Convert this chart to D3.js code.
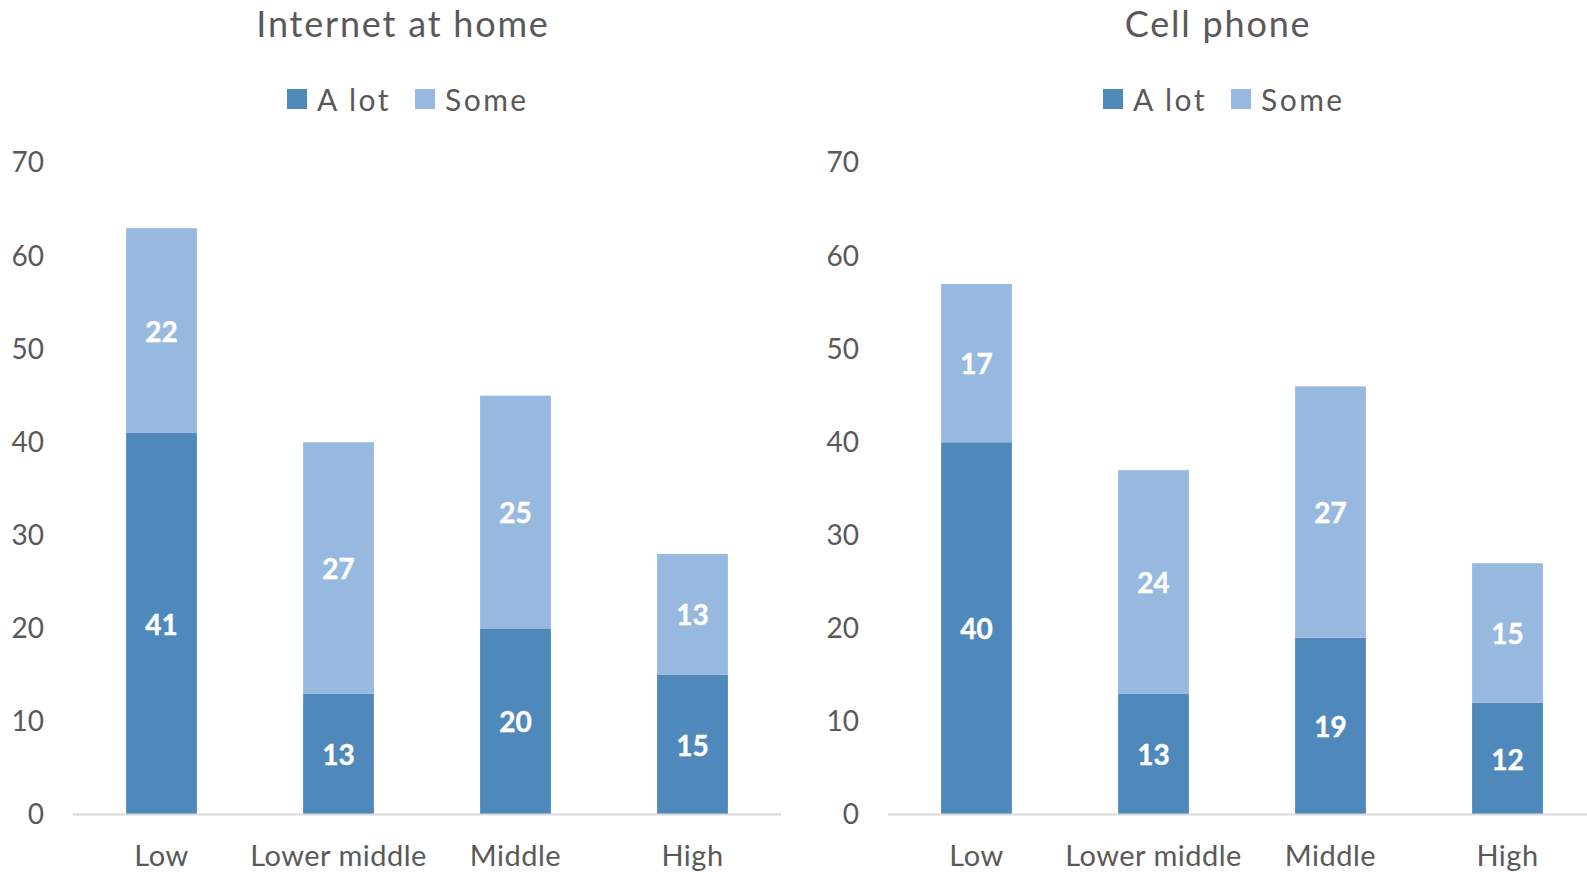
<!DOCTYPE html>
<html>
<head>
<meta charset="utf-8">
<script src="https://cdn.jsdelivr.net/npm/d3@7/dist/d3.min.js"></script>
<style>
  html, body { margin: 0; padding: 0; background: #fff; }
  svg text { font-family: Lato, "Open Sans", sans-serif; }
</style>
</head>
<body>
<svg id="chart" width="1587" height="872"></svg>
<script>
// Income groups shown on the x axis
const categories = ["Low", "Lower middle", "Middle", "High"];
const seriesNames = ["A lot", "Some"];

// Internet at home
const internetALot = [41, 13, 20, 15];
const internetSome = [22, 27, 25, 13];

// Cell phone
const phoneALot = [40, 13, 19, 12];
const phoneSome = [17, 24, 27, 15];

const yTicks = [0, 10, 20, 30, 40, 50, 60, 70];

const colors = { "A lot": "#4f89bc", "Some": "#98b9df" };
const textColor = "#595959";

const svg = d3.select("#chart");

const panels = [
  { title: "Internet at home", aLot: internetALot, some: internetSome,
    x0: 73, x1: 781, tickX: 44, titleX: 402, legendX: 287 },
  { title: "Cell phone", aLot: phoneALot, some: phoneSome,
    x0: 888, x1: 1596, tickX: 859, titleX: 1217, legendX: 1103 }
];

const yBase = 814.5, yTop = 163;

panels.forEach(p => {
  const g = svg.append("g");

  const x = d3.scaleBand().domain(categories).range([p.x0, p.x1]).paddingInner(0.6).paddingOuter(0.3);
  const y = d3.scaleLinear().domain([0, 70]).range([yBase, yTop]);

  // title
  g.append("text")
    .attr("x", p.titleX + 1).attr("y", 23)
    .attr("text-anchor", "middle").attr("dominant-baseline", "central")
    .attr("font-size", 36).attr("letter-spacing", 1.8).attr("fill", textColor)
    .text(p.title);

  // legend
  const leg = g.append("g").attr("transform", `translate(${p.legendX},99)`);
  const legOffsets = [0, 128];
  seriesNames.forEach((s, i) => {
    leg.append("rect").attr("x", legOffsets[i]).attr("y", -10)
      .attr("width", 20).attr("height", 20).attr("fill", colors[s]);
    leg.append("text").attr("x", legOffsets[i] + 30).attr("y", 0)
      .attr("dominant-baseline", "central").attr("font-size", 30)
      .attr("letter-spacing", 2.5)
      .attr("fill", textColor).text(s);
  });

  // y axis tick labels
  const yAxis = d3.axisLeft(y).tickValues(yTicks).tickSize(0).tickPadding(0);
  const ya = g.append("g").attr("transform", `translate(${p.tickX},0)`).call(yAxis);
  ya.select(".domain").remove();
  ya.selectAll("text").attr("font-size", 28).attr("fill", textColor)
    .attr("font-family", "Lato, 'Open Sans', sans-serif");

  // stacked data
  const rows = categories.map((c, i) => ({ cat: c, "A lot": p.aLot[i], "Some": p.some[i] }));
  const stack = d3.stack().keys(seriesNames)(rows);

  stack.forEach(layer => {
    const lg = g.append("g");
    lg.selectAll("rect").data(layer).join("rect")
      .attr("x", d => x(d.data.cat))
      .attr("width", x.bandwidth())
      .attr("y", d => y(d[1]))
      .attr("height", d => y(d[0]) - y(d[1]))
      .attr("fill", colors[layer.key]);
    lg.selectAll("text").data(layer).join("text")
      .attr("x", d => x(d.data.cat) + x.bandwidth() / 2)
      .attr("y", d => y((d[0] + d[1]) / 2))
      .attr("text-anchor", "middle").attr("dominant-baseline", "central")
      .attr("font-size", 28).attr("font-weight", "bold").attr("fill", "#ffffff")
      .attr("stroke", "#ffffff").attr("stroke-width", 0.4)
      .text(d => d.data[layer.key]);
  });

  // baseline
  g.append("line").attr("x1", p.x0).attr("x2", p.x1)
    .attr("y1", yBase).attr("y2", yBase)
    .attr("stroke", "#d9d9d9").attr("stroke-width", 2);

  // x axis category labels
  const xAxis = d3.axisBottom(x).tickSize(0).tickPadding(0);
  const xa = g.append("g").attr("transform", `translate(0,${854})`).call(xAxis);
  xa.select(".domain").remove();
  xa.selectAll("text").attr("font-size", 29).attr("fill", textColor)
    .attr("letter-spacing", 0.5)
    .attr("dy", null).attr("dominant-baseline", "central")
    .attr("font-family", "Lato, 'Open Sans', sans-serif");
});
</script>
</body>
</html>
